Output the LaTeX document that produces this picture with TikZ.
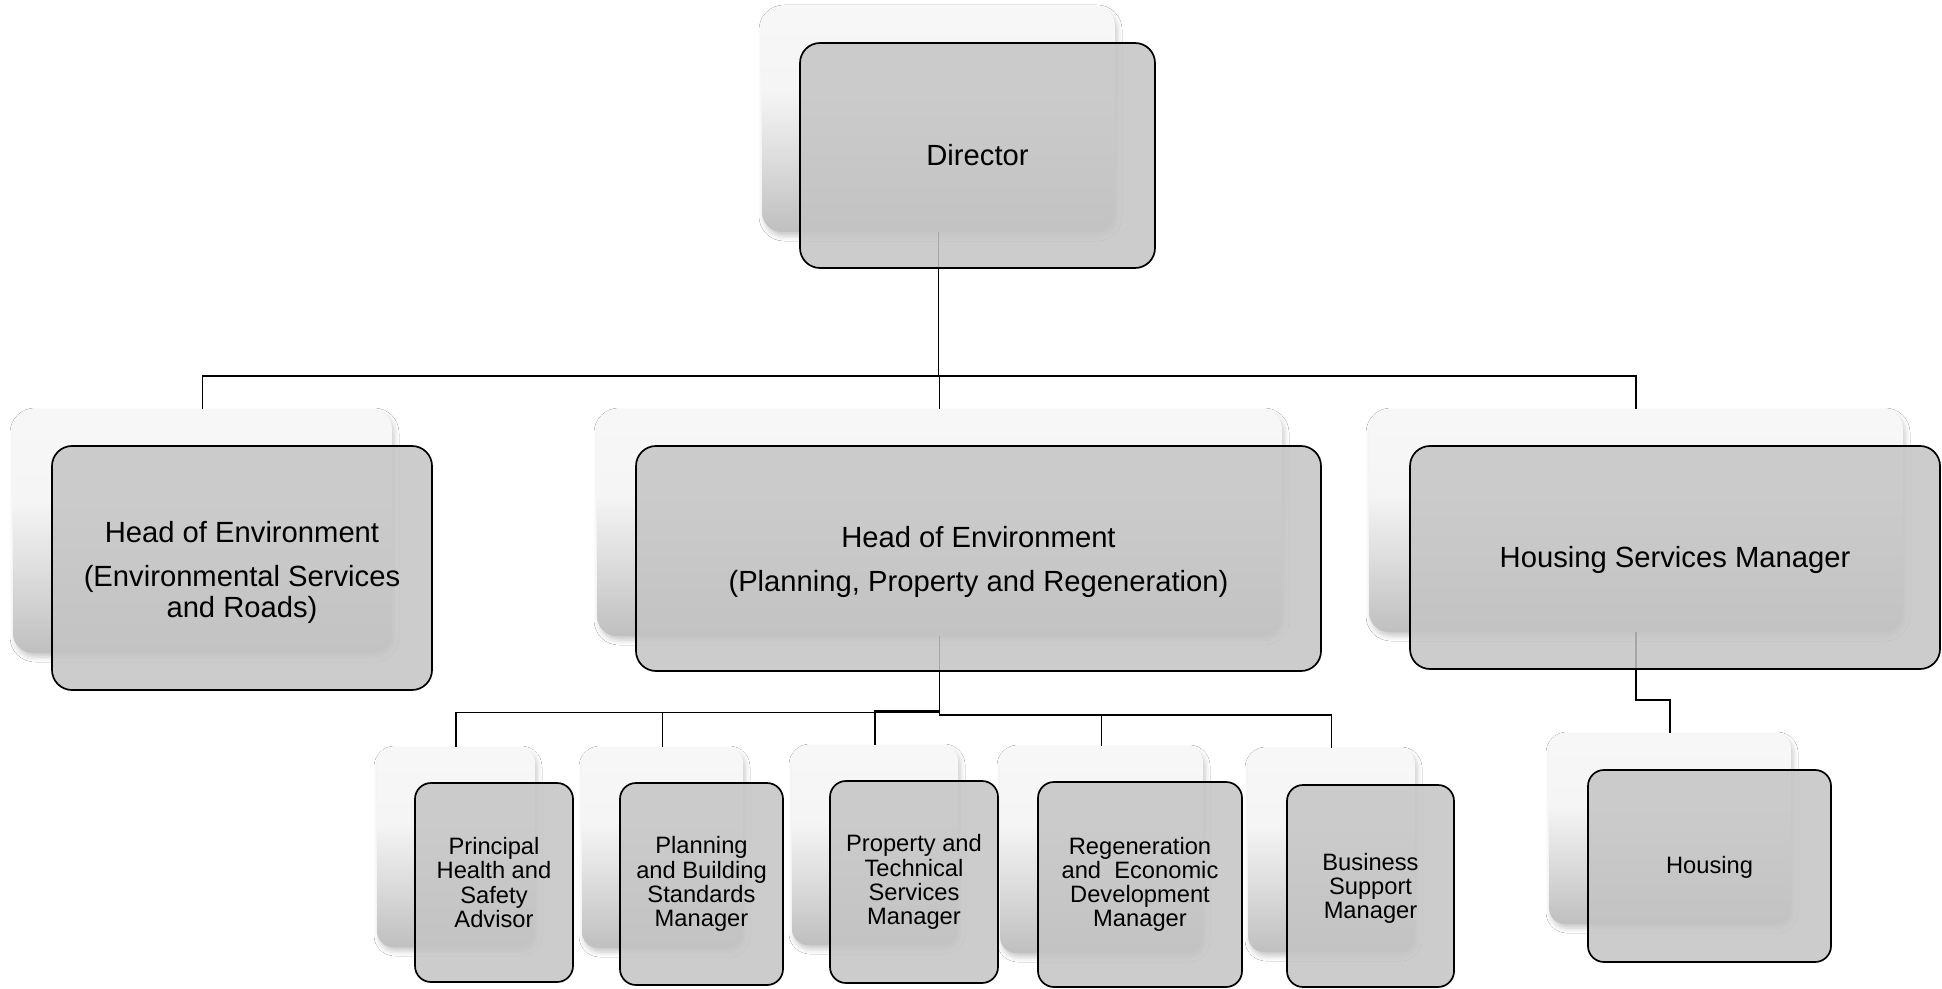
\documentclass[tikz,border=0pt]{standalone}
\usepackage{fontspec}
\setmainfont{Liberation Sans}
\usetikzlibrary{shadows.blur}
\definecolor{frontgray}{gray}{0.77}
\pgfdeclareverticalshading{backshade}{100bp}{color(0bp)=(black!25); color(25bp)=(black!25); color(42bp)=(black!13); color(56bp)=(black!4); color(75bp)=(black!3); color(100bp)=(black!3)}
\newcommand\fbig{\fontsize{14.6pt}{15.3pt}\selectfont}
\newcommand\fsmall{\fontsize{11.85pt}{12.1pt}\selectfont}
\tikzset{
  backbox/.style={rectangle, rounded corners=10pt, shading=backshade, draw=none, inner sep=0pt,
    blur shadow={shadow xshift=1pt, shadow yshift=-2pt, shadow blur radius=2.5pt, shadow opacity=22}},
  smallback/.style={backbox, rounded corners=8pt},
  frontbox/.style={rectangle, rounded corners=10pt, draw=black, line width=0.85pt, fill=frontgray,
    fill opacity=0.85, text opacity=1, align=center, inner sep=0pt, font=\fbig},
  smallfront/.style={frontbox, rounded corners=8pt, font=\fsmall},
  conn/.style={draw=black, line width=0.8pt}
}
\begin{document}
\begin{tikzpicture}[x=0.5pt, y=-0.5pt]
\fill[white] (0,0) rectangle (1942,989);
\useasboundingbox (0,0) rectangle (1942,989);

% back boxes
\node[backbox, minimum width=176.5pt, minimum height=113pt] (dirB) at (938.5,119) {};
\node[backbox, minimum width=189.5pt, minimum height=122pt] (heaB) at (202.5,531) {};
\node[backbox, minimum width=342.5pt, minimum height=113.5pt] (hebB) at (939.5,522.5) {};
\node[backbox, minimum width=267pt, minimum height=111.5pt] (hsmB) at (1636,520.5) {};
\node[smallback, minimum width=79pt, minimum height=100pt] (c1B) at (456,847) {};
\node[smallback, minimum width=80.5pt, minimum height=100.5pt] (c2B) at (662.5,847.5) {};
\node[smallback, minimum width=83pt, minimum height=100pt] (c3B) at (875,845) {};
\node[smallback, minimum width=101.5pt, minimum height=103.5pt] (c4B) at (1101.5,849.5) {};
\node[smallback, minimum width=83.5pt, minimum height=102pt] (c5B) at (1331.5,850) {};
\node[smallback, minimum width=121pt, minimum height=95.5pt] (houB) at (1670,828.5) {};

% connectors
\coordinate (barTop) at (0,376);
\coordinate (barA) at (0,712.5);
\coordinate (barB) at (0,711);
\coordinate (barC) at (0,715);
\coordinate (barH) at (0,700);
\draw[conn] (dirB.south) -- (dirB.south |- barTop) -| (heaB.north);
\draw[conn] (dirB.south) -- (dirB.south |- barTop) -| (hebB.north);
\draw[conn] (dirB.south) -- (dirB.south |- barTop) -| (hsmB.north);
\draw[conn] (hebB.south) -- (hebB.south |- barA) -| (c1B.north);
\draw[conn] (hebB.south) -- (hebB.south |- barA) -| (c2B.north);
\draw[conn] (hebB.south) -- (hebB.south |- barB) -| (c3B.north);
\draw[conn] (hebB.south) -- (hebB.south |- barC) -| (c4B.north);
\draw[conn] (hebB.south) -- (hebB.south |- barC) -| (c5B.north);
\draw[conn] (hsmB.south) -- (hsmB.south |- barH) -| (houB.north);

% front boxes
\node[frontbox, minimum width=177.5pt, minimum height=112.5pt] (dirF) at (977.5,155.5) {Director};
\node[frontbox, minimum width=190pt, minimum height=122pt] (heaF) at (242,568)
  {\rule{0pt}{15pt}Head of Environment\\[7pt](Environmental Services\\and Roads)};
\node[frontbox, minimum width=342.5pt, minimum height=112.5pt] (hebF) at (978.5,558.5)
  {\rule{0pt}{14pt}Head of Environment\\[6.5pt](Planning, Property and Regeneration)};
\node[frontbox, minimum width=265pt, minimum height=111.5pt] (hsmF) at (1675,557.5) {\rule{0pt}{13pt}Housing Services Manager};
\node[smallfront, minimum width=79pt, minimum height=99.5pt] (c1F) at (494,882.5)
  {Principal\\Health and\\Safety\\Advisor};
\node[smallfront, minimum width=81.5pt, minimum height=101pt] (c2F) at (701.5,884)
  {Planning\\and Building\\Standards\\Manager};
\node[smallfront, minimum width=84pt, minimum height=101pt] (c3F) at (914,882)
  {Property and\\Technical\\Services\\Manager};
\node[smallfront, minimum width=102pt, minimum height=102.5pt] (c4F) at (1140,884.5)
  {Regeneration\\and~ Economic\\Development\\Manager};
\node[smallfront, minimum width=83.5pt, minimum height=101pt] (c5F) at (1370.5,886)
  {\rule{0pt}{11pt}Business\\Support\\Manager};
\node[smallfront, minimum width=121.5pt, minimum height=96pt] (houF) at (1709.5,866) {\rule{0pt}{10pt}Housing};
\end{tikzpicture}
\end{document}
